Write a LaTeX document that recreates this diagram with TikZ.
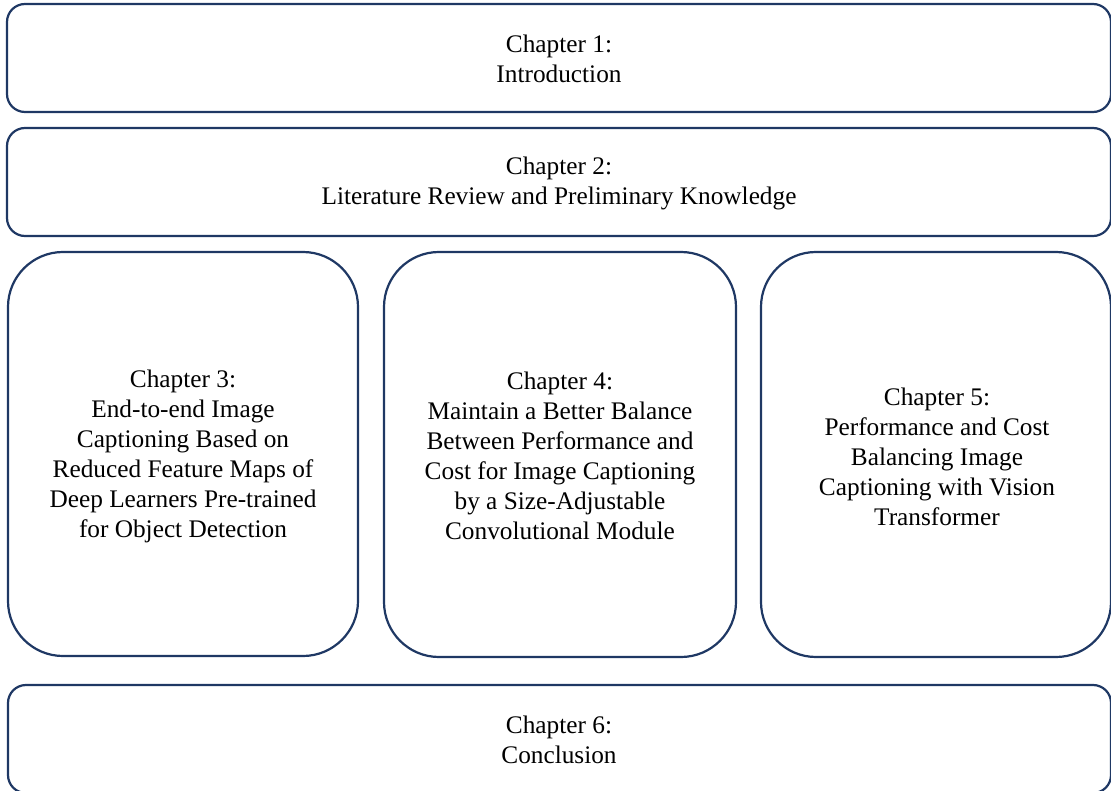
\documentclass[tikz,border=0pt]{standalone}
\usepackage{fontspec}
\setmainfont{Liberation Serif}
\definecolor{navy}{HTML}{1F3864}
\begin{document}
\begin{tikzpicture}[x=1pt,y=-1pt,
  chbox/.style={draw=navy,line width=2.2pt,fill=white,rounded corners=18pt},
  tallbox/.style={draw=navy,line width=2.2pt,fill=white,rounded corners=55pt},
  lbl/.style={align=center,font=\fontsize{25.3}{30}\selectfont,inner sep=0pt}]
\useasboundingbox (0,0) rectangle (1111,791);
\clip (0,0) rectangle (1111,791);
\draw[chbox] (7,4) rectangle (1111,112);
\node[lbl] (c1) at (559,59) {Chapter 1:\\Introduction};
\draw[chbox] (7,128) rectangle (1111,236);
\node[lbl] (c2) at (559,183) {Chapter 2:\\Literature Review and Preliminary Knowledge};
\draw[tallbox] (8,252) rectangle (358,656);
\node[lbl] (c3) at (183,456) {Chapter 3:\\End-to-end Image\\Captioning Based on\\Reduced Feature Maps of\\Deep Learners Pre-trained\\for Object Detection};
\draw[tallbox] (384,252) rectangle (736,657);
\node[lbl] (c4) at (560,456) {Chapter 4:\\Maintain a Better Balance\\Between Performance and\\Cost for Image Captioning\\by a Size-Adjustable\\Convolutional Module};
\draw[tallbox] (761,252) rectangle (1111,657);
\node[lbl] (c5) at (937,457) {Chapter 5:\\Performance and Cost\\Balancing Image\\Captioning with Vision\\Transformer};
\draw[chbox] (8,685) rectangle (1111,793);
\node[lbl] (c6) at (559,740) {Chapter 6:\\Conclusion};
\end{tikzpicture}
\end{document}
